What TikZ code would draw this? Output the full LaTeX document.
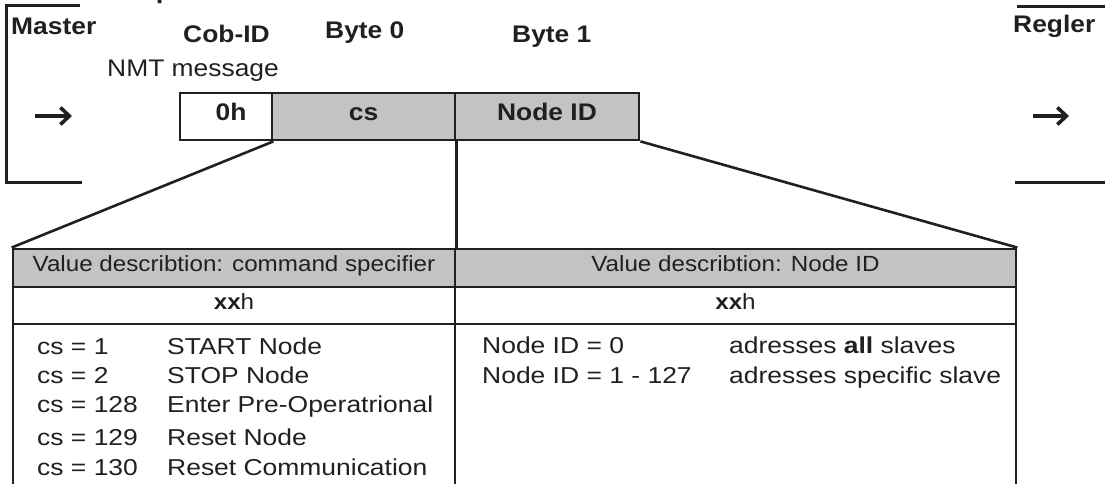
\documentclass[tikz,border=0pt]{standalone}
\usepackage{fontspec}
\setmainfont{Liberation Sans}[FakeStretch=1.1]
\newfontfamily\bodyfam{Liberation Sans}[FakeStretch=1.15]
\usetikzlibrary{arrows.meta}
\definecolor{ink}{HTML}{231F20}
\definecolor{cellgray}{HTML}{C3C3C3}
\begin{document}
\begin{tikzpicture}[x=1pt,y=-1pt,line join=miter,
  every node/.style={text=ink},
  lbl/.style={font=\fontsize{24}{28}\selectfont\bfseries,inner sep=0pt,anchor=base west},
  bodytxt/.style={font=\fontsize{23}{26}\bodyfam,inner sep=0pt,anchor=base west},
  cell/.style={draw=ink,line width=2.8pt,inner sep=0pt,text height=0.72em,text depth=0pt},
  boxfont/.style={font=\fontsize{24}{28}\selectfont\bfseries},
  tabfont/.style={font=\fontsize{22}{26}\selectfont},
  conn/.style={draw=ink,line width=2.6pt},
  bracket/.style={draw=ink,line width=3pt},
  arrowsym/.style={draw=ink,line width=3.6pt,-{Straight Barb[length=9pt,width=17pt]}}]
\useasboundingbox (0,0) rectangle (1105,484);
% title (cut off at the top, as in the reference)
\node[lbl,font=\fontsize{25}{28}\selectfont\bfseries] (title) at (9,-1) {Code example};
% brackets
\draw[bracket] (80,6) -- (6,6) -- (6,182) -- (82,182);
\draw[bracket] (1017,7) -- (1105,7);
\draw[bracket] (1015,182) -- (1105,182);
% labels
\node[lbl] (master) at (11,35) {Master};
\node[lbl] (cobid) at (183,43) {Cob-ID};
\node[lbl] (byte0) at (325,39) {Byte 0};
\node[lbl] (byte1) at (512,43) {Byte 1};
\node[lbl] (regler) at (1013,33) {Regler};
\node[lbl,font=\fontsize{24}{28}\selectfont] (nmt) at (107,77) {NMT message};
% direction arrows
\coordinate (aL1) at (35,116);
\coordinate (aL2) at (72,116);
\coordinate (aR1) at (1033,116);
\coordinate (aR2) at (1069,116);
\draw[arrowsym] (aL1) -- (aL2);
\draw[arrowsym] (aR1) -- (aR2);
% message boxes
\node[cell,boxfont,fill=white,minimum width=92pt,minimum height=47pt] (c0) at (226,116.5) {\hspace{10pt}0h};
\node[cell,boxfont,fill=cellgray,minimum width=183pt,minimum height=47pt] (c1) at (363.5,116.5) {cs};
\node[cell,boxfont,fill=cellgray,minimum width=184pt,minimum height=47pt] (c2) at (547,116.5) {Node ID};
% table
\node[cell,tabfont,fill=cellgray,minimum width=442pt,minimum height=38pt] (h1) at (234,268) {Value describtion: command specifier};
\node[cell,tabfont,fill=cellgray,minimum width=561pt,minimum height=38pt] (h2) at (735.5,268) {Value describtion: Node ID};
\node[cell,tabfont,fill=white,minimum width=442pt,minimum height=37pt] (x1) at (234,305.5) {\textbf{xx}h};
\node[cell,tabfont,fill=white,minimum width=561pt,minimum height=37pt] (x2) at (735.5,305.5) {\textbf{xx}h};
\node[cell,fill=white,minimum width=442pt,minimum height=180pt] (b1) at (234,414) {};
\node[cell,fill=white,minimum width=561pt,minimum height=180pt] (b2) at (735.5,414) {};
% connectors
\draw[conn] (c0.south east) -- (h1.north west);
\draw[conn] (c1.south east) -- (h1.north east);
\draw[conn] (c2.south east) -- (h2.north east);
% body texts left
\node[bodytxt] (l1a) at (37,354) {cs = 1};
\node[bodytxt] (l1b) at (167,354) {START Node};
\node[bodytxt] (l2a) at (37,383) {cs = 2};
\node[bodytxt] (l2b) at (167,383) {STOP Node};
\node[bodytxt] (l3a) at (37,412) {cs = 128};
\node[bodytxt] (l3b) at (167,412) {Enter Pre-Operatrional};
\node[bodytxt] (l4a) at (37,445) {cs = 129};
\node[bodytxt] (l4b) at (167,445) {Reset Node};
\node[bodytxt] (l5a) at (37,475) {cs = 130};
\node[bodytxt] (l5b) at (167,475) {Reset Communication};
% body texts right
\node[bodytxt] (r1a) at (482,353) {Node ID = 0};
\node[bodytxt] (r1b) at (729,353) {adresses \textbf{all} slaves};
\node[bodytxt] (r2a) at (482,383) {Node ID = 1 - 127};
\node[bodytxt] (r2b) at (729,383) {adresses specific slave};
\end{tikzpicture}
\end{document}
